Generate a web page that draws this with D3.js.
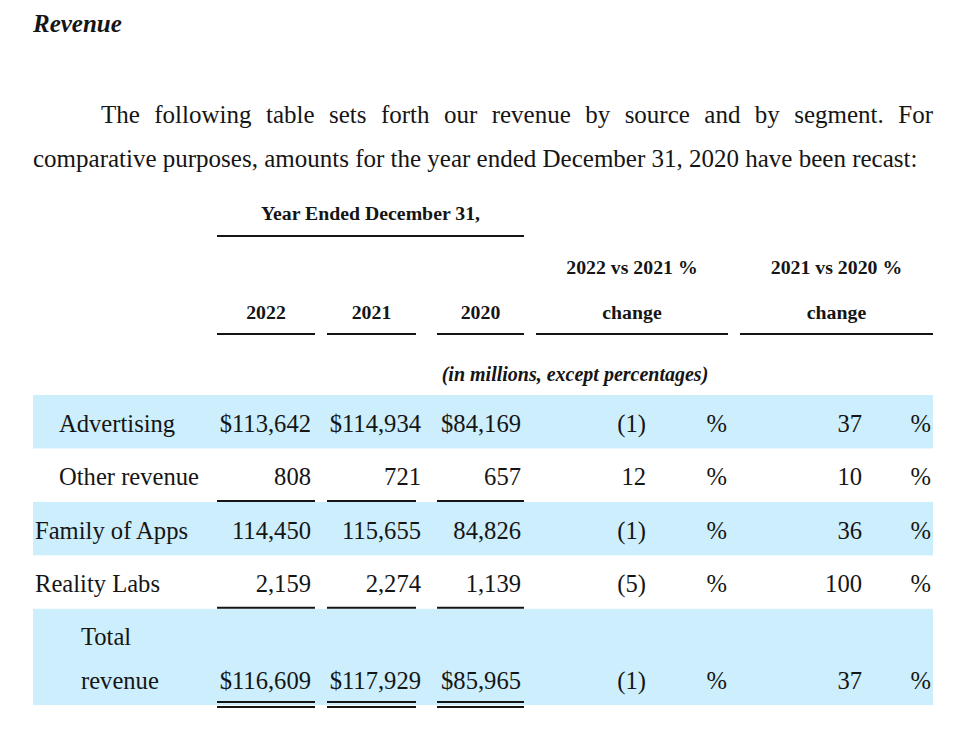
<!DOCTYPE html>
<html>
<head>
<meta charset="utf-8">
<script src="https://cdn.jsdelivr.net/npm/d3@7"></script>
<style>
  body { margin: 0; background: #fff; }
  svg { display: block; font-family: "Liberation Serif", "Times New Roman", serif; }
</style>
</head>
<body>
<div id="table"></div>
<script>
// Table values
var heading = "Revenue";
var intro = ["The following table sets forth our revenue by source and by segment. For",
             "comparative purposes, amounts for the year ended December 31, 2020 have been recast:"];
var years = ["2022", "2021", "2020"];
var changeHeads = ["2022 vs 2021 %", "2021 vs 2020 %"];
var unitsNote = "(in millions, except percentages)";
var rowLabels = [["Advertising"], ["Other revenue"], ["Family of Apps"], ["Reality Labs"], ["Total", "revenue"]];
var rowLevel = [1, 1, 0, 0, 2];
var rowDollar = [true, false, false, false, true];
var rev2022 = [113642, 808, 114450, 2159, 116609];
var rev2021 = [114934, 721, 115655, 2274, 117929];
var rev2020 = [84169, 657, 84826, 1139, 85965];
var chg2022vs2021 = [-1, 12, -1, -5, -1];
var chg2021vs2020 = [37, 10, 36, 100, 37];
var shadedRows = [0, 2, 4];

function drawTable() {
    var svgWidth = 957, svgHeight = 732;
    var svg = d3.select("#table").append("svg")
        .attr("width", svgWidth)
        .attr("height", svgHeight);

    var ink = "#151515";
    var band = "#cdeefc";

    // Row positions: rows are one unit tall, the total row takes 1.8 units
    var rowStart = [0, 1, 2, 3, 4];
    var rowEnd = [1, 2, 3, 4, 5.8];
    var yScale = d3.scaleLinear().domain([0, 5.8]).range([395, 705]);

    // Column positions
    var colKeys = ["2022", "2021", "2020", "chg1", "chg2"];
    var colLeft = d3.scaleOrdinal().domain(colKeys).range([217, 327, 437, 536, 740]);
    var colRightEdge = d3.scaleOrdinal().domain(colKeys).range([315, 416, 524, 728, 933]);
    var numRight = d3.scaleOrdinal().domain(colKeys).range([311, 421, 521, 646, 862]);
    var pctRight = d3.scaleOrdinal().domain(["chg1", "chg2"]).range([727, 931]);
    var labelX = d3.scaleOrdinal().domain([0, 1, 2]).range([35, 59, 81]);
    var colMid = function(k) { return (colLeft(k) + colRightEdge(k)) / 2; };

    var fmt = d3.format(",");
    var pct = function(v) { return v < 0 ? "(" + Math.abs(v) + ")" : String(v); };

    // Title
    svg.append("text")
        .attr("x", 33).attr("y", 32)
        .attr("font-size", "25px")
        .attr("font-weight", "bold")
        .attr("font-style", "italic")
        .attr("fill", ink)
        .text(heading);

    // Intro paragraph, first line justified word by word
    var line1 = intro[0].split(" ");
    var g1 = svg.append("g").attr("font-size", "25px").attr("fill", ink);
    var words = g1.selectAll("text").data(line1).enter().append("text")
        .attr("y", 123)
        .text(function(d) { return d; });
    var widths = [];
    words.each(function() { widths.push(this.getComputedTextLength()); });
    var x0 = 101, x1 = 933;
    var gap = (x1 - x0 - d3.sum(widths)) / (line1.length - 1);
    var xs = [], cx = x0;
    widths.forEach(function(w) { xs.push(cx); cx += w + gap; });
    words.attr("x", function(d, i) { return xs[i]; });

    svg.append("text")
        .attr("x", 33).attr("y", 167)
        .attr("font-size", "25px")
        .attr("fill", ink)
        .text(intro[1]);

    // Column headers
    var head = svg.append("g")
        .attr("font-size", "19.8px")
        .attr("font-weight", "bold")
        .attr("fill", ink)
        .attr("text-anchor", "middle");

    head.append("text")
        .attr("x", (colLeft("2022") + colRightEdge("2020")) / 2)
        .attr("y", 220)
        .text("Year Ended December 31,");
    svg.append("line")
        .attr("x1", colLeft("2022")).attr("x2", colRightEdge("2020"))
        .attr("y1", 236).attr("y2", 236)
        .attr("stroke", ink).attr("stroke-width", 2);

    head.selectAll("text.yr").data(years).enter().append("text")
        .attr("class", "yr")
        .attr("x", function(d) { return colMid(d); })
        .attr("y", 319)
        .text(function(d) { return d; });

    head.selectAll("text.ch1").data(changeHeads).enter().append("text")
        .attr("class", "ch1")
        .attr("x", function(d, i) { return colMid(colKeys[3 + i]); })
        .attr("y", 274)
        .text(function(d) { return d; });
    head.selectAll("text.ch2").data(changeHeads).enter().append("text")
        .attr("class", "ch2")
        .attr("x", function(d, i) { return colMid(colKeys[3 + i]); })
        .attr("y", 319)
        .text("change");

    svg.append("g").selectAll("line").data(colKeys).enter().append("line")
        .attr("x1", function(d) { return colLeft(d); })
        .attr("x2", function(d) { return colRightEdge(d); })
        .attr("y1", 334).attr("y2", 334)
        .attr("stroke", ink).attr("stroke-width", 2);

    svg.append("text")
        .attr("x", (colLeft("2022") + colRightEdge("chg2")) / 2)
        .attr("y", 381)
        .attr("text-anchor", "middle")
        .attr("font-size", "20px")
        .attr("font-weight", "bold")
        .attr("font-style", "italic")
        .attr("fill", ink)
        .text(unitsNote);

    // Shaded bands
    svg.append("g").selectAll("rect").data(shadedRows).enter().append("rect")
        .attr("x", 33)
        .attr("width", 900)
        .attr("y", function(d) { return yScale(rowStart[d]); })
        .attr("height", function(d) { return yScale(rowEnd[d]) - yScale(rowStart[d]); })
        .attr("fill", band);

    // Rows
    var rows = rowLabels.map(function(lbl, i) {
        return {
            label: lbl, level: rowLevel[i], dollar: rowDollar[i],
            vals: [rev2022[i], rev2021[i], rev2020[i]],
            chg: [chg2022vs2021[i], chg2021vs2020[i]],
            base: yScale(rowEnd[i]) - (rowEnd[i] - rowStart[i] > 1 ? 16 : 16.5)
        };
    });

    var body = svg.append("g").attr("font-size", "24.6px").attr("fill", ink);
    var rowG = body.selectAll("g.row").data(rows).enter().append("g").attr("class", "row");

    rowG.each(function(r) {
        var g = d3.select(this);
        r.label.forEach(function(part, j) {
            g.append("text")
                .attr("x", labelX(r.level))
                .attr("y", r.base - (r.label.length - 1 - j) * 44)
                .text(part);
        });
        r.vals.forEach(function(v, j) {
            g.append("text")
                .attr("x", numRight(years[j]))
                .attr("y", r.base)
                .attr("text-anchor", "end")
                .text((r.dollar ? "$" : "") + fmt(v));
        });
        r.chg.forEach(function(v, j) {
            var k = colKeys[3 + j];
            g.append("text")
                .attr("x", numRight(k))
                .attr("y", r.base)
                .attr("text-anchor", "end")
                .text(pct(v));
            g.append("text")
                .attr("x", pctRight(k))
                .attr("y", r.base)
                .attr("text-anchor", "end")
                .text("%");
        });
    });

    // Subtotal rules under Other revenue and Reality Labs, double rule under total
    var rules = [
        { y: yScale(2) - 1, double: false },
        { y: yScale(4) - 1, double: false },
        { y: yScale(5.8) - 3, double: true }
    ];
    rules.forEach(function(r) {
        var ys = r.double ? [r.y, r.y + 5] : [r.y];
        ys.forEach(function(yy) {
            svg.append("g").selectAll("line").data(years).enter().append("line")
                .attr("x1", function(d) { return colLeft(d); })
                .attr("x2", function(d) { return colRightEdge(d); })
                .attr("y1", yy).attr("y2", yy)
                .attr("stroke", ink).attr("stroke-width", 2);
        });
    });
}

drawTable();
</script>
</body>
</html>
